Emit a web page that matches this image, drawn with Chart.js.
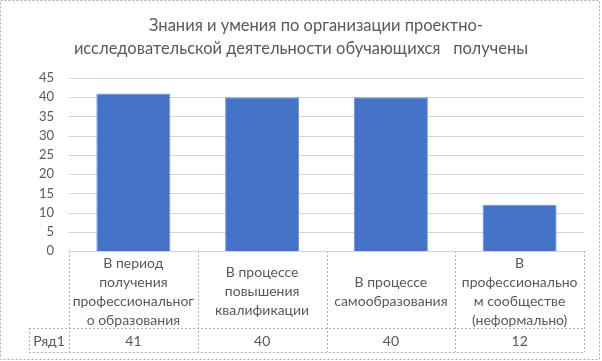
<!DOCTYPE html>
<html>
<head>
<meta charset="utf-8">
<script src="https://cdn.jsdelivr.net/npm/chart.js@4.4.0/dist/chart.umd.min.js"></script>
<style>
  html, body { margin: 0; padding: 0; background: #fff; }
  #wrap { width: 602px; height: 361px; }
</style>
</head>
<body>
<div id="wrap"><canvas id="chart" width="602" height="361"></canvas></div>
<script>
// data
const titleLines = ['Знания и умения по организации проектно-', 'исследовательской деятельности обучающихся   получены']
const categories = [
  ['В период', 'получения', 'профессиональног', 'о образования'],
  ['В процессе', 'повышения', 'квалификации'],
  ['В процессе', 'самообразования'],
  ['В', 'профессионально', 'м сообществе', '(неформально)']
]
const seriesName = 'Ряд1'
const values = [41, 40, 40, 12]
const yTicks = [0, 5, 10, 15, 20, 25, 30, 35, 40, 45]

const textColor = '#595959'
const lineColor = '#b4b4b4'
const font = 'Lato, "Open Sans", sans-serif'

function dotted(ctx, x1, y1, x2, y2) {
  ctx.beginPath()
  ctx.moveTo(x1, y1)
  ctx.lineTo(x2, y2)
  ctx.stroke()
}

// title, grid, outer frame and the data table under the bars
const tablePlugin = {
  id: 'tablePlugin',
  afterDraw(chart) {
    const ctx = chart.ctx
    const area = chart.chartArea
    const xs = chart.scales.x
    const ys = chart.scales.y
    const n = categories.length
    const half = area.width / n / 2
    const top = Math.round(area.bottom)
    const headBottom = top + 77
    const rowBottom = headBottom + 24
    const leftCell = Math.round(area.left) - 40

    ctx.save()
    ctx.lineWidth = 1

    // grid goes behind the bars already drawn
    ctx.globalCompositeOperation = 'destination-over'
    ctx.strokeStyle = '#d4d4d4'
    ctx.setLineDash([])
    yTicks.forEach(v => {
      const y = Math.round(ys.getPixelForValue(v)) + 0.5
      dotted(ctx, leftCell + 40, y, area.right, y)
    })
    ctx.globalCompositeOperation = 'source-over'

    ctx.setLineDash([2, 2])
    // outer frame
    ctx.strokeStyle = '#a8a8a8'
    ctx.strokeRect(0.5, 0.5, 599, 359)
    ctx.strokeStyle = lineColor

    for (let i = 0; i <= n; i++) {
      const x = Math.round(area.left + i * half * 2) + 0.5
      dotted(ctx, x, top, x, rowBottom)
    }
    dotted(ctx, leftCell, headBottom + 0.5, area.right, headBottom + 0.5)
    dotted(ctx, leftCell, rowBottom + 0.5, area.right, rowBottom + 0.5)
    dotted(ctx, leftCell + 0.5, headBottom, leftCell + 0.5, rowBottom)
    ctx.setLineDash([])

    ctx.fillStyle = textColor
    ctx.textAlign = 'center'
    ctx.textBaseline = 'middle'
    ctx.font = '14px ' + font
    const lh = 19
    categories.forEach((lines, i) => {
      const cx = xs.getPixelForValue(i)
      const mid = (top + headBottom) / 2 + 2
      const y0 = mid - (lines.length - 1) * lh / 2
      lines.forEach((t, j) => ctx.fillText(t, cx, y0 + j * lh))
      ctx.fillText(String(values[i]), cx, (headBottom + rowBottom) / 2 + 1)
    })
    ctx.fillText(seriesName, (leftCell + area.left) / 2, (headBottom + rowBottom) / 2 + 1)

    // title
    ctx.font = '16.5px ' + font
    ctx.fillText(titleLines[0], 316, 26)
    ctx.fillText(titleLines[1], 301, 49)
    ctx.restore()
  }
}

new Chart(document.getElementById('chart').getContext('2d'), {
  type: 'bar',
  data: {
    labels: categories,
    datasets: [
      {
        label: seriesName,
        data: values,
        backgroundColor: '#4472c4',
        borderColor: '#6b93dc',
        borderWidth: 1,
        categoryPercentage: 1,
        barPercentage: 0.575
      }
    ]
  },
  options: {
    responsive: false,
    animation: false,
    layout: {
      padding: { left: 0, right: 18, top: 78, bottom: 110 }
    },
    plugins: {
      legend: { display: false },
      title: { display: false },
      tooltip: { enabled: false }
    },
    scales: {
      x: {
        display: false
      },
      y: {
        min: yTicks[0],
        max: yTicks[yTicks.length - 1],
        ticks: {
          stepSize: yTicks[1] - yTicks[0],
          autoSkip: false,
          padding: 15,
          color: textColor,
          font: { family: font, size: 13 }
        },
        grid: { display: false, drawTicks: false },
        border: { display: false },
        afterFit(scale) { scale.width = 69 }
      }
    }
  },
  plugins: [tablePlugin]
})
</script>
</body>
</html>
